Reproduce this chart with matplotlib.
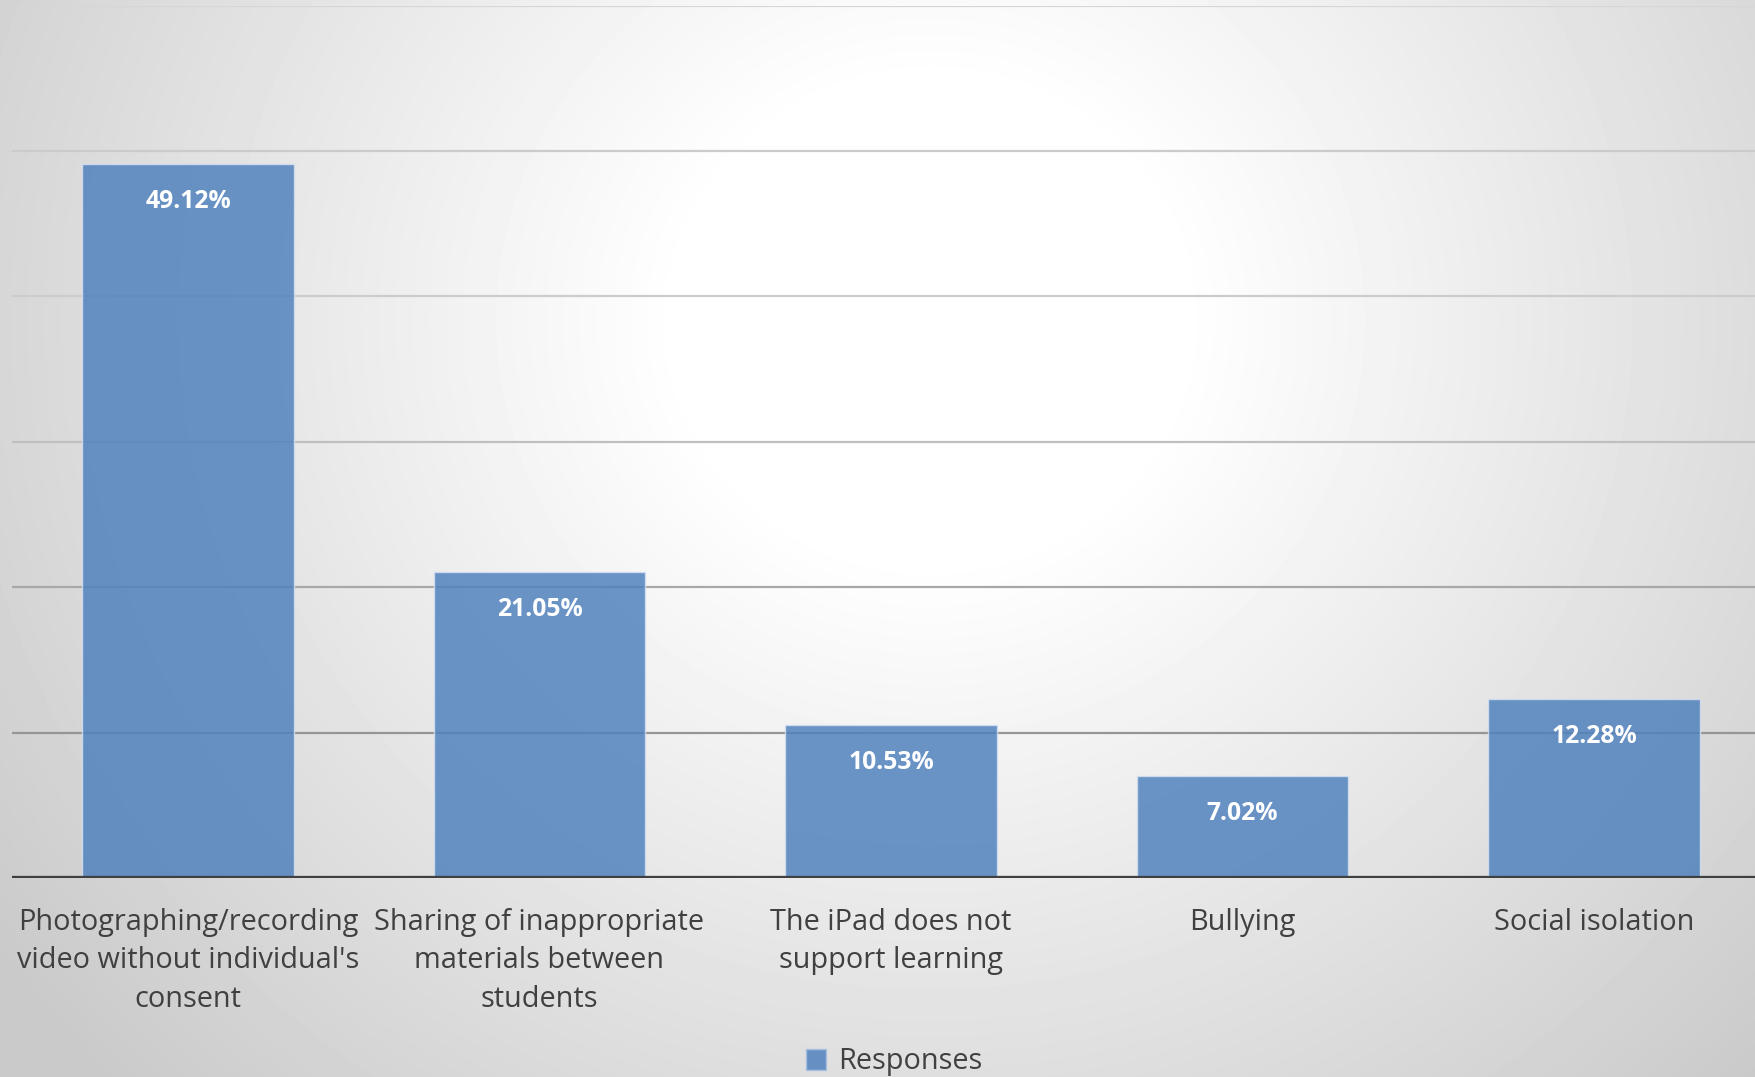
import numpy as np
import matplotlib
matplotlib.use("Agg")
import matplotlib.pyplot as plt
from matplotlib.patches import Patch

categories = [
    "Photographing/recording\nvideo without individual's\nconsent",
    "Sharing of inappropriate\nmaterials between\nstudents",
    "The iPad does not\nsupport learning",
    "Bullying",
    "Social isolation",
]
values = [49.12, 21.05, 10.53, 7.02, 12.28]
labels = ["49.12%", "21.05%", "10.53%", "7.02%", "12.28%"]
series_name = "Responses"
grid_values = [10, 20, 30, 40, 50, 60]

W, H = 1755, 1077
fig = plt.figure(figsize=(W / 100, H / 100), dpi=100)

# radial gradient background
bg = fig.add_axes([0, 0, 1, 1], zorder=-10)
yy, xx = np.mgrid[0:H, 0:W]
r = np.hypot(xx - 930, (yy - 320) * 1.05)
t = np.clip((r - 250) / 900, 0, 1)
shade = 1.0 - 0.21 * t
bg.imshow(shade, cmap="gray", vmin=0, vmax=1, extent=[0, W, H, 0], aspect="auto",
          interpolation="bilinear")
bg.set_xlim(0, W)
bg.set_ylim(H, 0)
bg.axis("off")

left = 12.25 / W
bottom = (H - 878) / H
height = (878 - 5.5) / H
width = 1757.5 / W
ax = fig.add_axes([left, bottom, width, height])
ax.set_facecolor("none")

x = np.arange(len(categories))
grid_colors = ["#959595", "#a8a8a8", "#bfbfbf", "#cccccc", "#cbcbcb", "#d6d6d6"]
for gv, gc in zip(grid_values, grid_colors):
    ax.axhline(gv, color=gc, lw=1.6, zorder=1)

bars = ax.bar(x, values, width=0.603, color="#4f81bd", alpha=0.84,
              edgecolor="#d5e0f0", linewidth=1.0, zorder=2, label=series_name)
ax.axhline(0, color="#404040", lw=3.8, zorder=3)

for xi, v, lab in zip(x, values, labels):
    ax.annotate(lab, (xi, v), xytext=(0, -27), textcoords="offset points",
                ha="center", va="center", color="white", fontsize=17.8,
                fontweight="bold", family="Open Sans", zorder=4)

ax.set_xlim(-0.5, len(categories) - 0.5)
ax.set_ylim(0, 60)
ax.set_yticks([])
ax.set_xticks(x)
ax.set_xticklabels(categories, fontsize=20.8, color="#404040", family="Open Sans",
                   linespacing=1.43)
ax.tick_params(axis="x", length=0, pad=21.5)
for s in ax.spines.values():
    s.set_visible(False)

handle = Patch(facecolor="#6690c4", edgecolor="#a8bfdf", linewidth=1.0)
fig.legend([handle], [series_name], loc="center", bbox_to_anchor=(894 / W, 1 - 1062 / H),
           frameon=False, prop={"family": "Open Sans", "size": 20.8},
           labelcolor="#404040", handlelength=0.7, handleheight=0.7,
           handletextpad=0.4, borderpad=0)

fig.savefig("out.png", dpi=100)
